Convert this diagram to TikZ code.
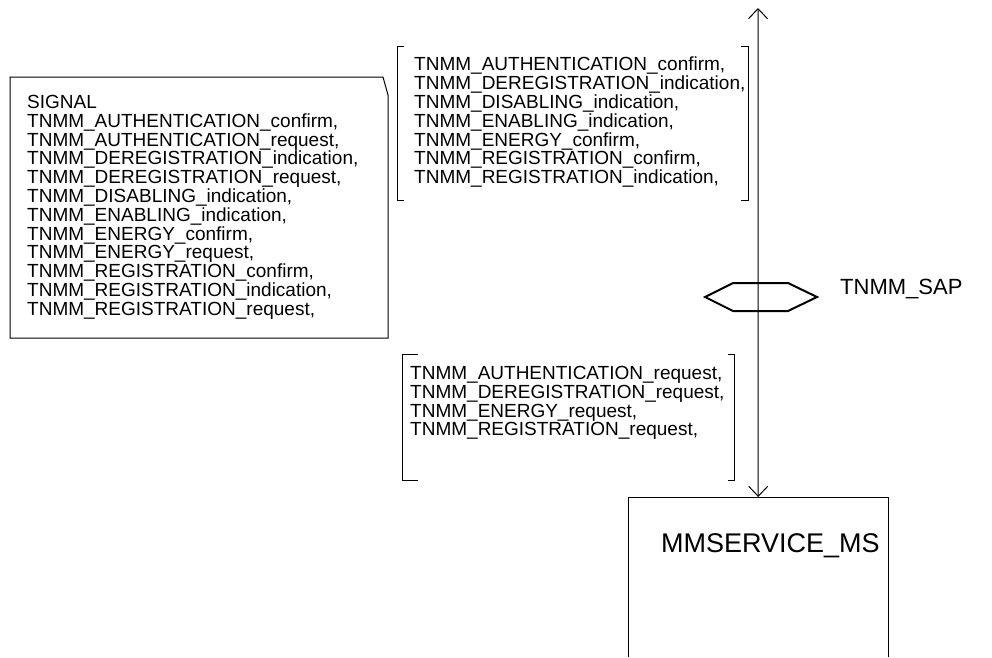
\documentclass[tikz,border=0pt]{standalone}
\usepackage{fontspec}
\setmainfont{Liberation Sans}
\usetikzlibrary{arrows.meta}
\tikzset{
  listtext/.style={anchor=north west, inner sep=0pt, align=left, font=\fontsize{19}{18.8}\selectfont},
  thin/.style={line width=1pt, draw=black},
  sigbarb/.tip={Straight Barb[length=10pt, width=19pt, line width=1pt]}
}
\begin{document}
\begin{tikzpicture}[x=1pt, y=-1pt]
\useasboundingbox (0,0) rectangle (992,657);
% signal box with folded corner
\draw[thin] (10,77) -- (383,77) -- (388,95) -- (388,338) -- (10,338) -- cycle;
\node[listtext] (sig) at (27,95) {SIGNAL\\
TNMM\_AUTHENTICATION\_confirm,\\
TNMM\_AUTHENTICATION\_request,\\
TNMM\_DEREGISTRATION\_indication,\\
TNMM\_DEREGISTRATION\_request,\\
TNMM\_DISABLING\_indication,\\
TNMM\_ENABLING\_indication,\\
TNMM\_ENERGY\_confirm,\\
TNMM\_ENERGY\_request,\\
TNMM\_REGISTRATION\_confirm,\\
TNMM\_REGISTRATION\_indication,\\
TNMM\_REGISTRATION\_request,};
% upper bracket list
\draw[thin] (404,46) -- (397,46) -- (397,200) -- (404,200);
\draw[thin] (741,46) -- (748,46) -- (748,200) -- (741,200);
\node[listtext] (up) at (414,57) {TNMM\_AUTHENTICATION\_confirm,\\
TNMM\_DEREGISTRATION\_indication,\\
TNMM\_DISABLING\_indication,\\
TNMM\_ENABLING\_indication,\\
TNMM\_ENERGY\_confirm,\\
TNMM\_REGISTRATION\_confirm,\\
TNMM\_REGISTRATION\_indication,};
% lower bracket list
\draw[thin] (418,354) -- (402,354) -- (402,480) -- (418,480);
\draw[thin] (728,354) -- (734,354) -- (734,480) -- (728,480);
\node[listtext] (low) at (410,366) {TNMM\_AUTHENTICATION\_request,\\
TNMM\_DEREGISTRATION\_request,\\
TNMM\_ENERGY\_request,\\
TNMM\_REGISTRATION\_request,};
% process box
\node[minimum width=260pt, minimum height=160pt, anchor=north west, inner sep=0pt] (ms) at (628,497) {};
\draw[thin] (ms.south west) -- (ms.north west) -- (ms.north east) -- (ms.south east);
\node[anchor=west, inner sep=0pt, font=\fontsize{27}{32}\selectfont] (mslabel) at (661,546) {MMSERVICE\_MS};
% channel
\coordinate (top) at (758,8);
\draw[thin, sigbarb-sigbarb] (top) -- (ms.north);
% SAP hexagon
\draw[line width=2pt] (705,297) -- (733,283) -- (788,283) -- (817,297) -- (788,311) -- (733,311) -- cycle;
\node[anchor=west, inner sep=0pt, font=\fontsize{22}{26}\selectfont] (sap) at (840,289) {TNMM\_SAP};
\end{tikzpicture}
\end{document}
